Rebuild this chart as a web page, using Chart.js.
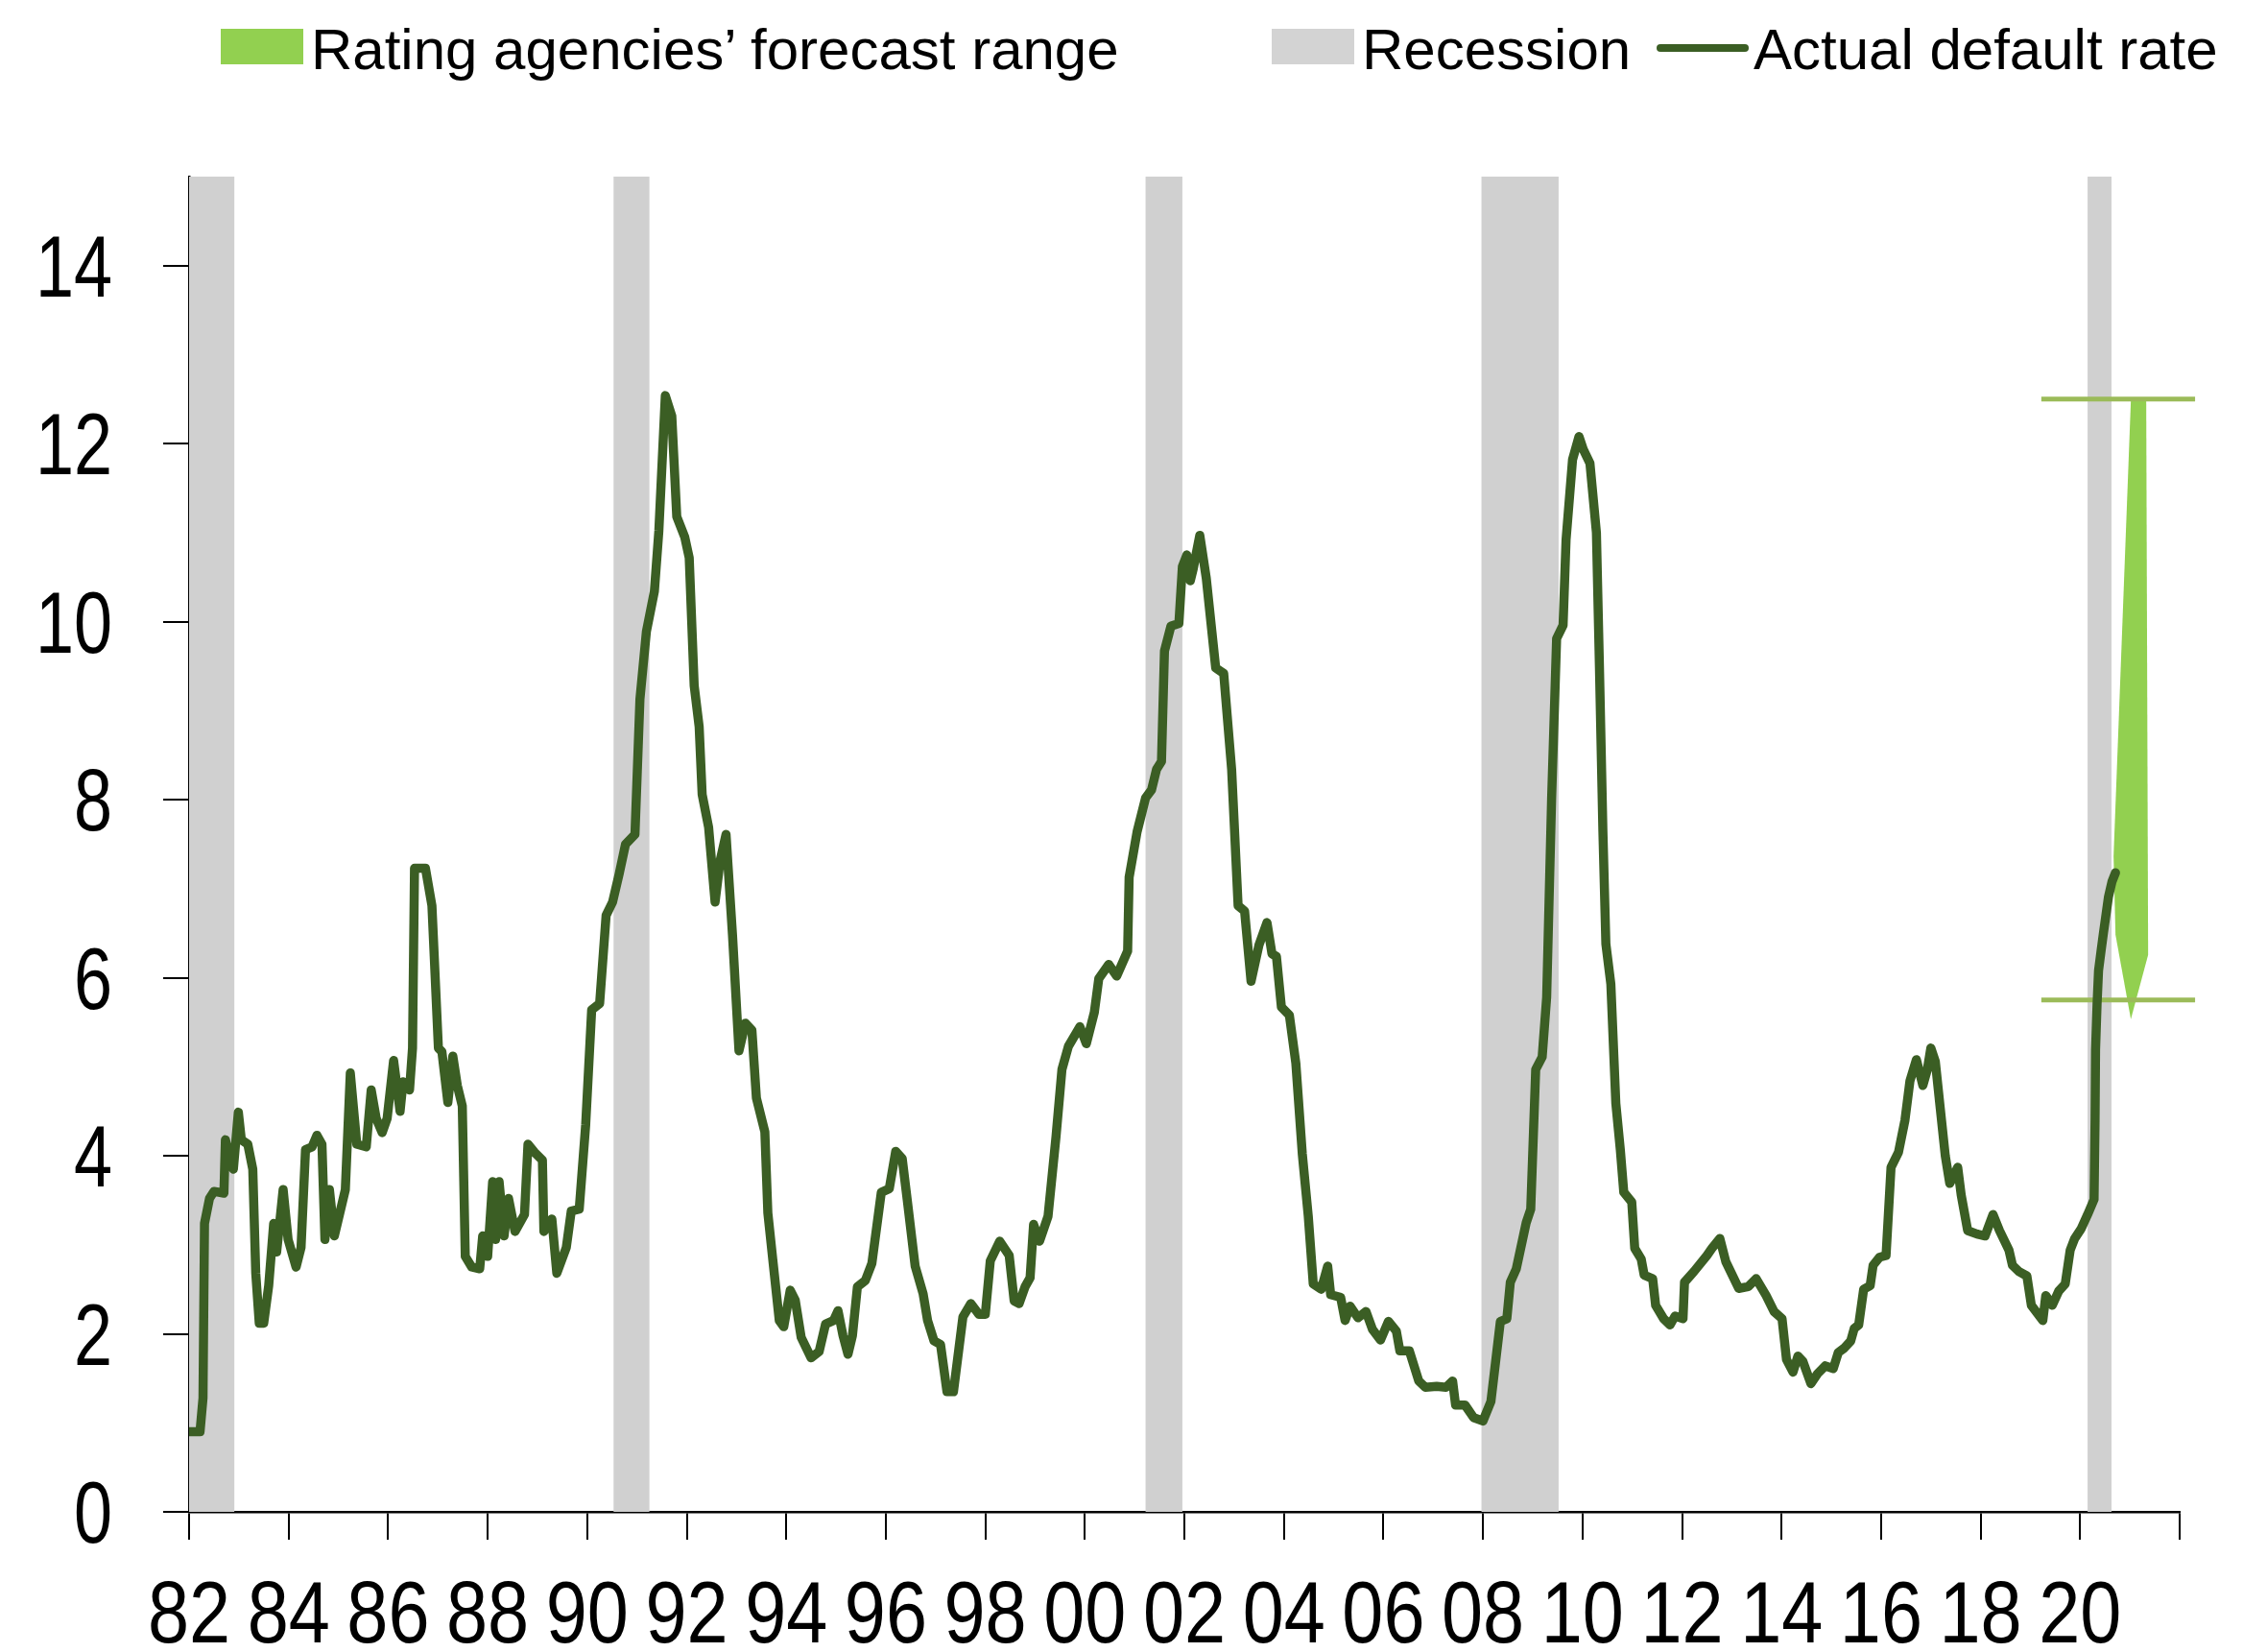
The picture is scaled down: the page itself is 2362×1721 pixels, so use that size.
<!DOCTYPE html>
<html>
<head>
<meta charset="utf-8">
<script src="https://cdn.jsdelivr.net/npm/chart.js@4.4.1/dist/chart.umd.min.js"></script>
<style>
  html, body { margin: 0; padding: 0; background: #fff; }
  #wrap { position: relative; width: 2362px; height: 1721px; }
  #chart { position: absolute; left: 0; top: 0; }
  .legend { position: absolute; top: 22px; font-family: 'Liberation Sans', Arial, sans-serif;
            font-size: 60px; line-height: 60px; color: #000; white-space: nowrap; }
  .swatch { position: absolute; top: 30px; width: 86px; height: 37px; }
</style>
</head>
<body>
<div id="wrap">
  <canvas id="chart" width="2362" height="1721"></canvas>
  <div class="swatch" style="left:230px;background:#92D050"></div>
  <div class="legend" style="left:324px">Rating agencies’ forecast range</div>
  <div class="swatch" style="left:1325px;background:#D3D3D3"></div>
  <div class="legend" style="left:1419px">Recession</div>
  <div class="swatch" style="left:1726px;top:46px;width:96px;height:8px;border-radius:4px;background:#3B5E24"></div>
  <div class="legend" style="left:1827px">Actual default rate</div>
</div>
<script>
// actual default rate (decimal year -> %)
const years = [
  1982.0, 1982.22, 1982.28, 1982.31, 1982.41, 1982.5, 1982.7, 1982.73, 1982.83, 1982.89,
  1982.99, 1983.05, 1983.18, 1983.28, 1983.34, 1983.41, 1983.5, 1983.6, 1983.7, 1983.76,
  1983.89, 1983.99, 1984.15, 1984.25, 1984.34, 1984.47, 1984.57, 1984.67, 1984.73, 1984.82,
  1984.92, 1985.14, 1985.24, 1985.37, 1985.56, 1985.66, 1985.76, 1985.88, 1985.98, 1986.11,
  1986.24, 1986.3, 1986.43, 1986.49, 1986.53, 1986.75, 1986.88, 1987.01, 1987.08, 1987.2,
  1987.3, 1987.39, 1987.49, 1987.55, 1987.68, 1987.84, 1987.9, 1988.0, 1988.1, 1988.16,
  1988.23, 1988.33, 1988.42, 1988.55, 1988.74, 1988.81, 1988.94, 1989.1, 1989.13, 1989.29,
  1989.39, 1989.58, 1989.68, 1989.84, 1989.97,
  1990.09, 1990.25, 1990.38, 1990.51, 1990.64, 1990.77, 1990.96, 1991.06, 1991.19, 1991.35,
  1991.44, 1991.57, 1991.7, 1991.8, 1991.96, 1992.05, 1992.15, 1992.25, 1992.31, 1992.44,
  1992.57, 1992.67, 1992.79, 1992.92, 1993.05, 1993.18, 1993.31, 1993.4, 1993.57, 1993.63,
  1993.73, 1993.86, 1993.95, 1994.08, 1994.18, 1994.3, 1994.5, 1994.66, 1994.79, 1994.95,
  1995.04, 1995.14, 1995.24, 1995.33, 1995.43, 1995.59, 1995.72, 1995.91, 1996.07, 1996.2,
  1996.33, 1996.43, 1996.59, 1996.75, 1996.84, 1996.97, 1997.1, 1997.23, 1997.36, 1997.55,
  1997.71, 1997.87, 1998.0,
  1998.1, 1998.29, 1998.48, 1998.58, 1998.68, 1998.8, 1998.9, 1998.97, 1999.09, 1999.26,
  1999.42, 1999.54, 1999.67, 1999.9, 2000.03, 2000.19, 2000.28, 2000.48, 2000.64, 2000.86,
  2000.89, 2001.05, 2001.22, 2001.34, 2001.44, 2001.54, 2001.6, 2001.73, 2001.89, 2001.96,
  2002.05, 2002.12, 2002.18, 2002.31, 2002.44, 2002.63, 2002.79, 2002.95, 2003.08, 2003.21,
  2003.34, 2003.5, 2003.66, 2003.76, 2003.85, 2003.95, 2004.11, 2004.24, 2004.37, 2004.49,
  2004.59, 2004.75, 2004.88, 2004.94, 2005.14, 2005.23, 2005.33, 2005.49, 2005.65, 2005.78,
  2005.94,
  2006.1, 2006.26, 2006.33, 2006.52, 2006.71, 2006.84, 2007.07, 2007.26, 2007.39, 2007.45,
  2007.64, 2007.81, 2008.0, 2008.16, 2008.35, 2008.48, 2008.55, 2008.67, 2008.87, 2008.96,
  2009.06, 2009.19, 2009.28, 2009.38, 2009.48, 2009.61, 2009.67, 2009.8, 2009.93, 2010.02,
  2010.15, 2010.28, 2010.34, 2010.41, 2010.47, 2010.57, 2010.67, 2010.76, 2010.83, 2010.99,
  2011.05, 2011.18, 2011.24, 2011.41, 2011.47, 2011.63, 2011.76, 2011.86, 2012.02, 2012.05,
  2012.24, 2012.5, 2012.6, 2012.76, 2012.88, 2013.14, 2013.33, 2013.49, 2013.69, 2013.85,
  2014.01, 2014.1, 2014.23, 2014.33, 2014.43, 2014.59, 2014.72, 2014.88, 2015.04, 2015.14,
  2015.26, 2015.39, 2015.46, 2015.55, 2015.65, 2015.78, 2015.84, 2015.97, 2016.1, 2016.2,
  2016.35, 2016.48, 2016.58, 2016.71, 2016.84, 2016.93, 2017.0, 2017.09, 2017.19, 2017.29,
  2017.38, 2017.54, 2017.61, 2017.74, 2017.93, 2018.09, 2018.25, 2018.38, 2018.57, 2018.64,
  2018.77, 2018.93, 2019.02, 2019.25, 2019.31, 2019.44, 2019.57, 2019.7, 2019.8, 2019.89,
  2020.02, 2020.15, 2020.28, 2020.3, 2020.31, 2020.34, 2020.37, 2020.42, 2020.47, 2020.57,
  2020.64, 2020.71
];
const defaultRate = [
  0.9, 0.9, 1.28, 3.24, 3.52, 3.6, 3.58, 4.18, 3.95, 3.85,
  4.49, 4.18, 4.13, 3.85, 2.68, 2.12, 2.12, 2.54, 3.24, 2.92,
  3.62, 3.06, 2.75, 2.97, 4.07, 4.1, 4.23, 4.13, 3.06, 3.62,
  3.1, 3.62, 4.93, 4.13, 4.1, 4.74, 4.42, 4.26, 4.42, 5.07,
  4.5, 4.83, 4.74, 5.21, 7.23, 7.23, 6.81, 5.21, 5.17, 4.6,
  5.12, 4.79, 4.56, 2.87, 2.75, 2.73, 3.1, 2.87, 3.71, 3.06,
  3.71, 3.1, 3.52, 3.15, 3.34, 4.13, 4.04, 3.95, 3.15, 3.29,
  2.68, 2.97, 3.38, 3.4, 4.35,
  5.64, 5.71, 6.7, 6.85, 7.16, 7.5, 7.61, 9.13, 9.89, 10.34,
  11.02, 12.54, 12.31, 11.18, 10.95, 10.72, 9.28, 8.82, 8.06, 7.69,
  6.85, 7.31, 7.61, 6.48, 5.18, 5.49, 5.41, 4.65, 4.27, 3.36,
  2.83, 2.15, 2.08, 2.49, 2.38, 1.96, 1.73, 1.8, 2.11, 2.15,
  2.26, 1.98, 1.77, 1.98, 2.53, 2.6, 2.79, 3.59, 3.63, 4.05,
  3.97, 3.51, 2.76, 2.45, 2.15, 1.92, 1.88, 1.35, 1.35, 2.19,
  2.34, 2.22, 2.22,
  2.82, 3.04, 2.88, 2.37, 2.34, 2.53, 2.63, 3.23, 3.04, 3.32,
  4.21, 4.97, 5.23, 5.45, 5.26, 5.61, 5.99, 6.15, 6.02, 6.3,
  7.13, 7.64, 8.02, 8.11, 8.34, 8.43, 9.67, 9.95, 9.98, 10.62,
  10.75, 10.46, 10.6, 10.97, 10.49, 9.48, 9.42, 8.34, 6.81, 6.75,
  5.96, 6.37, 6.62, 6.27, 6.24, 5.67, 5.58, 5.04, 4.02, 3.32,
  2.56, 2.5, 2.76, 2.44, 2.41, 2.15, 2.31, 2.18, 2.25, 2.05,
  1.93,
  2.14, 2.03, 1.81, 1.81, 1.47, 1.4, 1.41, 1.4, 1.47, 1.2,
  1.2, 1.06, 1.02, 1.24, 2.14, 2.17, 2.58, 2.73, 3.25, 3.4,
  4.97, 5.11, 5.78, 8.02, 9.81, 9.96, 10.92, 11.82, 12.08, 11.93,
  11.78, 11.0, 9.51, 7.65, 6.38, 5.93, 4.59, 4.07, 3.59, 3.48,
  2.96, 2.84, 2.66, 2.62, 2.32, 2.17, 2.1, 2.2, 2.17, 2.58,
  2.7, 2.88, 2.96, 3.07, 2.81, 2.51, 2.53, 2.62, 2.43, 2.25,
  2.17, 1.71, 1.57, 1.75, 1.69, 1.44, 1.55, 1.64, 1.61, 1.79,
  1.84, 1.92, 2.06, 2.1, 2.5, 2.54, 2.77, 2.86, 2.88, 3.87,
  4.04, 4.4, 4.84, 5.08, 4.79, 4.97, 5.21, 5.06, 4.53, 4.0,
  3.69, 3.87, 3.56, 3.16, 3.12, 3.1, 3.34, 3.16, 2.94, 2.77,
  2.7, 2.65, 2.32, 2.15, 2.43, 2.32, 2.48, 2.56, 2.94, 3.07,
  3.18, 3.34, 3.51, 4.4, 5.19, 5.7, 6.08, 6.3, 6.51, 6.91,
  7.08, 7.18
];

// recessions (decimal years)
const recessionStart = [1981.5, 1990.53, 2001.22, 2007.97, 2020.15];
const recessionEnd = [1982.91, 1991.25, 2001.96, 2009.52, 2020.63];

// rating agencies' forecast range
const forecastHigh = 12.5;
const forecastLow = 5.75;
const forecastSpan = [2019.22, 2022.31];
const arrowYear = 2021.0;

const xTickYears = [1982, 1984, 1986, 1988, 1990, 1992, 1994, 1996, 1998, 2000,
  2002, 2004, 2006, 2008, 2010, 2012, 2014, 2016, 2018, 2020, 2022];
const xTickLabels = ['82', '84', '86', '88', '90', '92', '94', '96', '98', '00',
  '02', '04', '06', '08', '10', '12', '14', '16', '18', '20', ''];
const yTickValues = [0, 2, 4, 6, 8, 10, 12, 14];
const yTickLabels = ['0', '2', '4', '6', '8', '10', '12', '14'];

// no narrow font installed, so the tick labels are squeezed by hand
const LABEL_FONT = "90px 'Liberation Sans', Arial, sans-serif";
const X_SQUEEZE = 0.86;
const Y_SQUEEZE = 0.8;

const recessionPlugin = {
  id: 'recessions',
  beforeDatasetsDraw(chart) {
    const { ctx, chartArea, scales } = chart;
    ctx.save();
    ctx.fillStyle = '#D0D0D0';
    for (let i = 0; i < recessionStart.length; i++) {
      const x0 = Math.max(scales.x.getPixelForValue(recessionStart[i]), chartArea.left);
      const x1 = scales.x.getPixelForValue(recessionEnd[i]);
      ctx.fillRect(x0, chartArea.top, x1 - x0, chartArea.bottom - chartArea.top);
    }
    // tapered arrow from the top of the range down to the bottom
    const cx = scales.x.getPixelForValue(arrowYear);
    const yTop = scales.y.getPixelForValue(forecastHigh) + 2;
    const yLow = scales.y.getPixelForValue(forecastLow);
    ctx.fillStyle = '#92D050';
    ctx.beginPath();
    ctx.moveTo(cx + 1, yTop);
    ctx.lineTo(cx + 17, yTop);
    ctx.lineTo(cx + 19, yLow - 47);
    ctx.lineTo(cx + 1, yLow + 20);
    ctx.lineTo(cx - 15, yLow - 68);
    ctx.lineTo(cx - 17, yLow - 150);
    ctx.closePath();
    ctx.fill();
    ctx.restore();
  }
};

const tickLabelPlugin = {
  id: 'tickLabels',
  afterDraw(chart) {
    const { ctx, chartArea, scales } = chart;
    ctx.save();
    ctx.font = LABEL_FONT;
    ctx.fillStyle = '#000';
    ctx.textBaseline = 'alphabetic';

    ctx.textAlign = 'center';
    xTickYears.forEach((v, i) => {
      ctx.save();
      ctx.translate(scales.x.getPixelForValue(v), chartArea.bottom + 136);
      ctx.scale(X_SQUEEZE, 1);
      ctx.fillText(xTickLabels[i], 0, 0);
      ctx.restore();
    });

    ctx.textAlign = 'right';
    yTickValues.forEach((v, i) => {
      ctx.save();
      ctx.translate(chartArea.left - 80, scales.y.getPixelForValue(v) + 32);
      ctx.scale(Y_SQUEEZE, 1);
      ctx.fillText(yTickLabels[i], 0, 0);
      ctx.restore();
    });
    ctx.restore();
  }
};

new Chart(document.getElementById('chart'), {
  type: 'line',
  data: {
    datasets: [
      {
        label: 'Actual default rate',
        data: years.map((x, i) => ({ x, y: defaultRate[i] })),
        borderColor: '#3B5E24',
        borderWidth: 9.5,
        borderJoinStyle: 'round',
        borderCapStyle: 'round',
        pointRadius: 0,
        tension: 0,
        order: 1
      },
      {
        label: 'Forecast high',
        data: forecastSpan.map(x => ({ x, y: forecastHigh })),
        borderColor: '#9BBB59',
        borderWidth: 5,
        pointRadius: 0,
        clip: false,
        order: 2
      },
      {
        label: 'Forecast low',
        data: forecastSpan.map(x => ({ x, y: forecastLow })),
        borderColor: '#9BBB59',
        borderWidth: 5,
        pointRadius: 0,
        clip: false,
        order: 2
      }
    ]
  },
  options: {
    responsive: false,
    animation: false,
    layout: { padding: { top: 184, right: 91, left: 0, bottom: 0 } },
    plugins: { legend: { display: false }, tooltip: { enabled: false } },
    scales: {
      x: {
        type: 'linear',
        min: 1982,
        max: 2022,
        afterBuildTicks: axis => { axis.ticks = xTickYears.map(v => ({ value: v })); },
        afterFit: axis => { axis.height = 146; },
        ticks: { display: false },
        grid: { drawOnChartArea: false, drawTicks: true, tickLength: 29, color: '#000', lineWidth: 2 },
        border: { display: true, color: '#000', width: 2.5 }
      },
      y: {
        min: 0,
        max: 15,
        afterBuildTicks: axis => { axis.ticks = yTickValues.map(v => ({ value: v })); },
        afterFit: axis => { axis.width = 197; },
        ticks: { display: false },
        grid: { drawOnChartArea: false, drawTicks: true, tickLength: 27, color: '#000', lineWidth: 2 },
        border: { display: true, color: '#000', width: 2.5 }
      }
    }
  },
  plugins: [recessionPlugin, tickLabelPlugin]
});
</script>
</body>
</html>
